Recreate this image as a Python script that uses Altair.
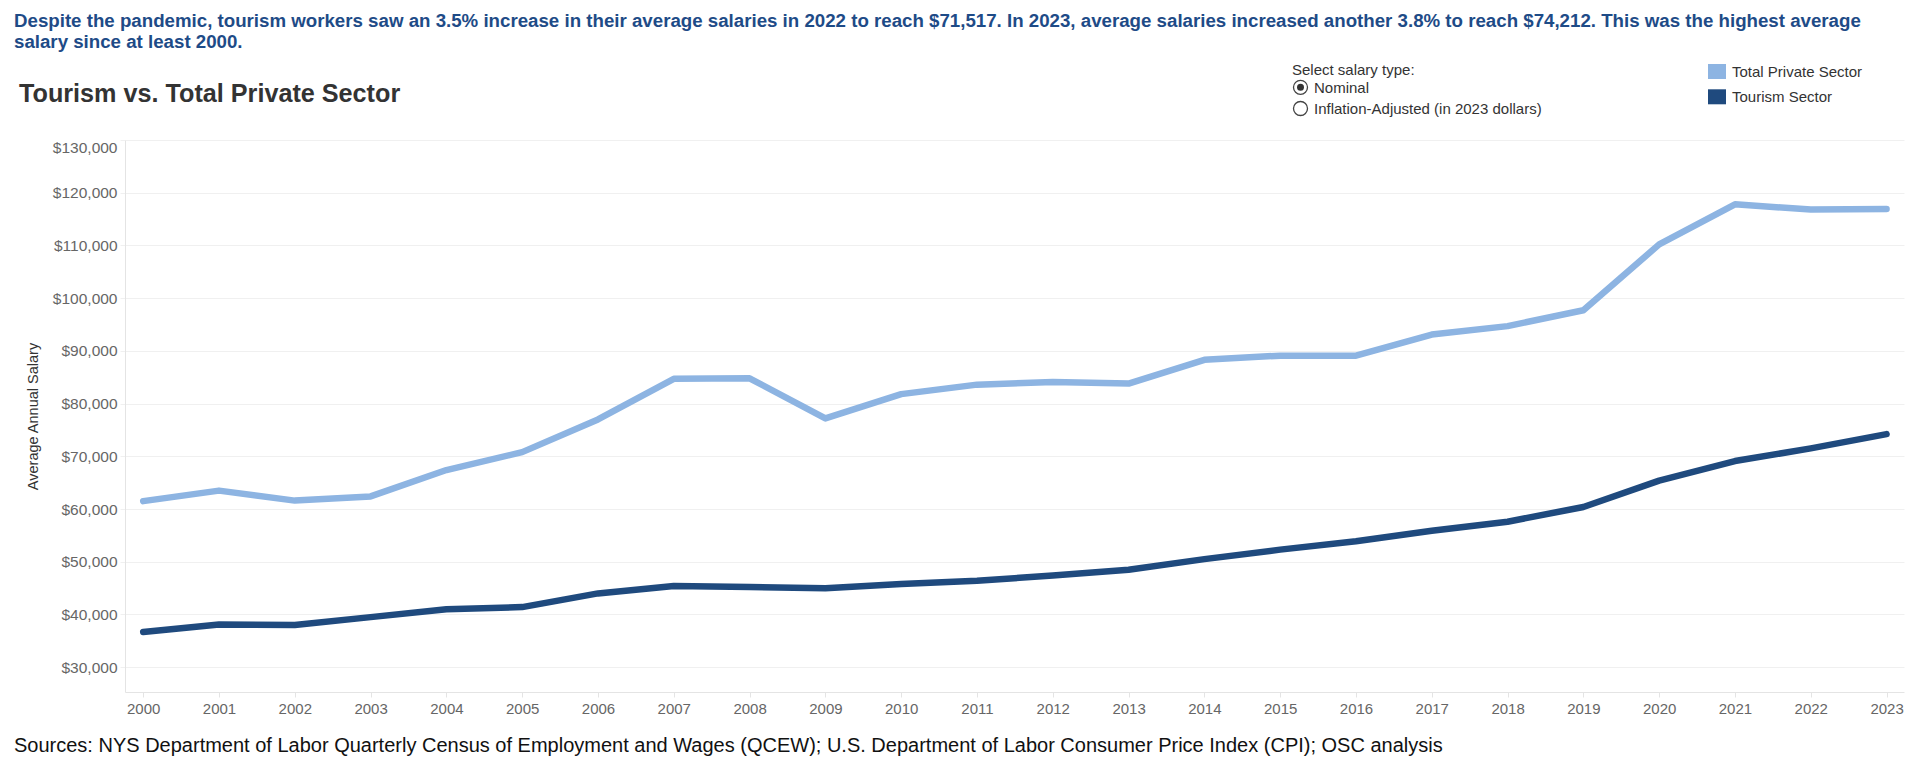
import altair as alt
import pandas as pd

# ---------------- data ----------------
YEARS = list(range(2000, 2024))
PRIVATE = [61500, 63500, 61600, 62400, 67400, 70800, 77000, 84700, 84800, 77200,
           81800, 83600, 84100, 83800, 88300, 89100, 89100, 93100, 94700, 97700,
           110200, 117800, 116800, 116900]
TOURISM = [36700, 38100, 38000, 39500, 41000, 41400, 44000, 45400, 45200, 45000,
           45800, 46400, 47400, 48500, 50500, 52300, 53900, 55900, 57600, 60400,
           65400, 69100, 71517, 74212]
SERIES = ["Total Private Sector", "Tourism Sector"]
COLORS = ["#8db4e2", "#1f4a7e"]
Y_TICKS = list(range(30000, 130001, 10000))

HEADLINE_1 = ("Despite the pandemic, tourism workers saw an 3.5% increase in their average salaries "
              "in 2022 to reach $71,517. In 2023, average salaries increased another 3.8% to reach "
              "$74,212. This was the highest average")
HEADLINE_2 = "salary since at least 2000."
TITLE = "Tourism vs. Total Private Sector"
SOURCES = ("Sources: NYS Department of Labor Quarterly Census of Employment and Wages (QCEW); "
           "U.S. Department of Labor Consumer Price Index (CPI); OSC analysis")
RADIO_HEADER = "Select salary type:"
RADIO_OPTIONS = ["Nominal", "Inflation-Adjusted (in 2023 dollars)"]

FONT = "Liberation Sans"

df = pd.DataFrame({
    "year": YEARS * 2,
    "salary": PRIVATE + TOURISM,
    "series": [SERIES[0]] * len(YEARS) + [SERIES[1]] * len(YEARS),
})

W, H = 1779, 552
PAD = {"left": 125, "top": 140, "right": 16, "bottom": 77}

lines = alt.Chart(df).mark_line(strokeWidth=6.5, strokeCap="round", strokeJoin="round").encode(
    x=alt.X("year:Q",
            scale=alt.Scale(domain=[1999.76, 2023.23], nice=False, zero=False),
            axis=alt.Axis(values=YEARS, format="d", title=None, grid=False,
                          domain=True, domainColor="#e4e4e4", ticks=True, tickColor="#e4e4e4",
                          tickSize=5, labelFlush=False, labelFontSize=15, labelFont=FONT,
                          labelColor="#666666", labelPadding=4)),
    y=alt.Y("salary:Q",
            scale=alt.Scale(domain=[25300, 130000], nice=False, zero=False),
            axis=alt.Axis(values=Y_TICKS, format="$,.0f", title="Average Annual Salary",
                          grid=True, gridColor="#f0f0f0", domain=True, domainColor="#e4e4e4",
                          ticks=True, tickColor="#f0f0f0", tickSize=5, labelPadding=3,
                          labelFontSize=15.5, labelFont=FONT, labelColor="#666666",
                          labelFlush=True,
                          titleFont=FONT, titleFontSize=14.5, titleFontWeight="normal",
                          titleColor="#333333", titleX=-92, titleY=276, titleAngle=270,
                          titleAlign="center", titleBaseline="middle")),
    color=alt.Color("series:N", scale=alt.Scale(domain=SERIES, range=COLORS), legend=None),
)


def text_layer(txt, x, y, size, color="#333333", weight="normal"):
    return alt.Chart(pd.DataFrame({"t": [txt]})).mark_text(
        align="left", baseline="alphabetic", font=FONT, fontSize=size,
        fontWeight=weight, color=color,
    ).encode(x=alt.value(x), y=alt.value(y), text="t:N")


layers = [lines]
layers.append(text_layer(HEADLINE_1, -111, -113.3, 18.7, "#1e4b87", "bold"))
layers.append(text_layer(HEADLINE_2, -111, -92.3, 18.7, "#1e4b87", "bold"))
layers.append(text_layer(TITLE, -106, -37.7, 25.2, "#333333", "bold"))
layers.append(text_layer(SOURCES, -111, 612.3, 20, "#111111"))
layers.append(text_layer(RADIO_HEADER, 1167, -65, 15))
layers.append(text_layer(RADIO_OPTIONS[0], 1189, -47.3, 15))
layers.append(text_layer(RADIO_OPTIONS[1], 1189, -26.1, 15))

# radio buttons
radio_y = [-52.7, -31.5]
for ry in radio_y:
    layers.append(alt.Chart(pd.DataFrame({"k": [0]})).mark_point(
        shape="circle", size=196, fill="white", stroke="#444444", strokeWidth=1.3,
        opacity=1, fillOpacity=1).encode(x=alt.value(1175.5), y=alt.value(ry)))
layers.append(alt.Chart(pd.DataFrame({"k": [0]})).mark_point(
    shape="circle", size=49, filled=True, color="#333333", opacity=1).encode(
    x=alt.value(1175.5), y=alt.value(radio_y[0])))

# legend swatches
leg_y = [(-76, -61), (-50.7, -35.7)]
leg_base = [-63, -37.6]
for i, name in enumerate(SERIES):
    layers.append(alt.Chart(pd.DataFrame({"k": [0]})).mark_rect(color=COLORS[i]).encode(
        x=alt.value(1583), x2=alt.value(1601), y=alt.value(leg_y[i][0]), y2=alt.value(leg_y[i][1])))
    layers.append(text_layer(name, 1607, leg_base[i], 15))

chart = alt.layer(*layers).properties(
    width=W, height=H,
    autosize=alt.AutoSizeParams(type="none"),
    padding=PAD,
    background="white",
).configure_view(stroke=None)

chart.save("out.html", embed_options={"renderer": "svg", "actions": False})
